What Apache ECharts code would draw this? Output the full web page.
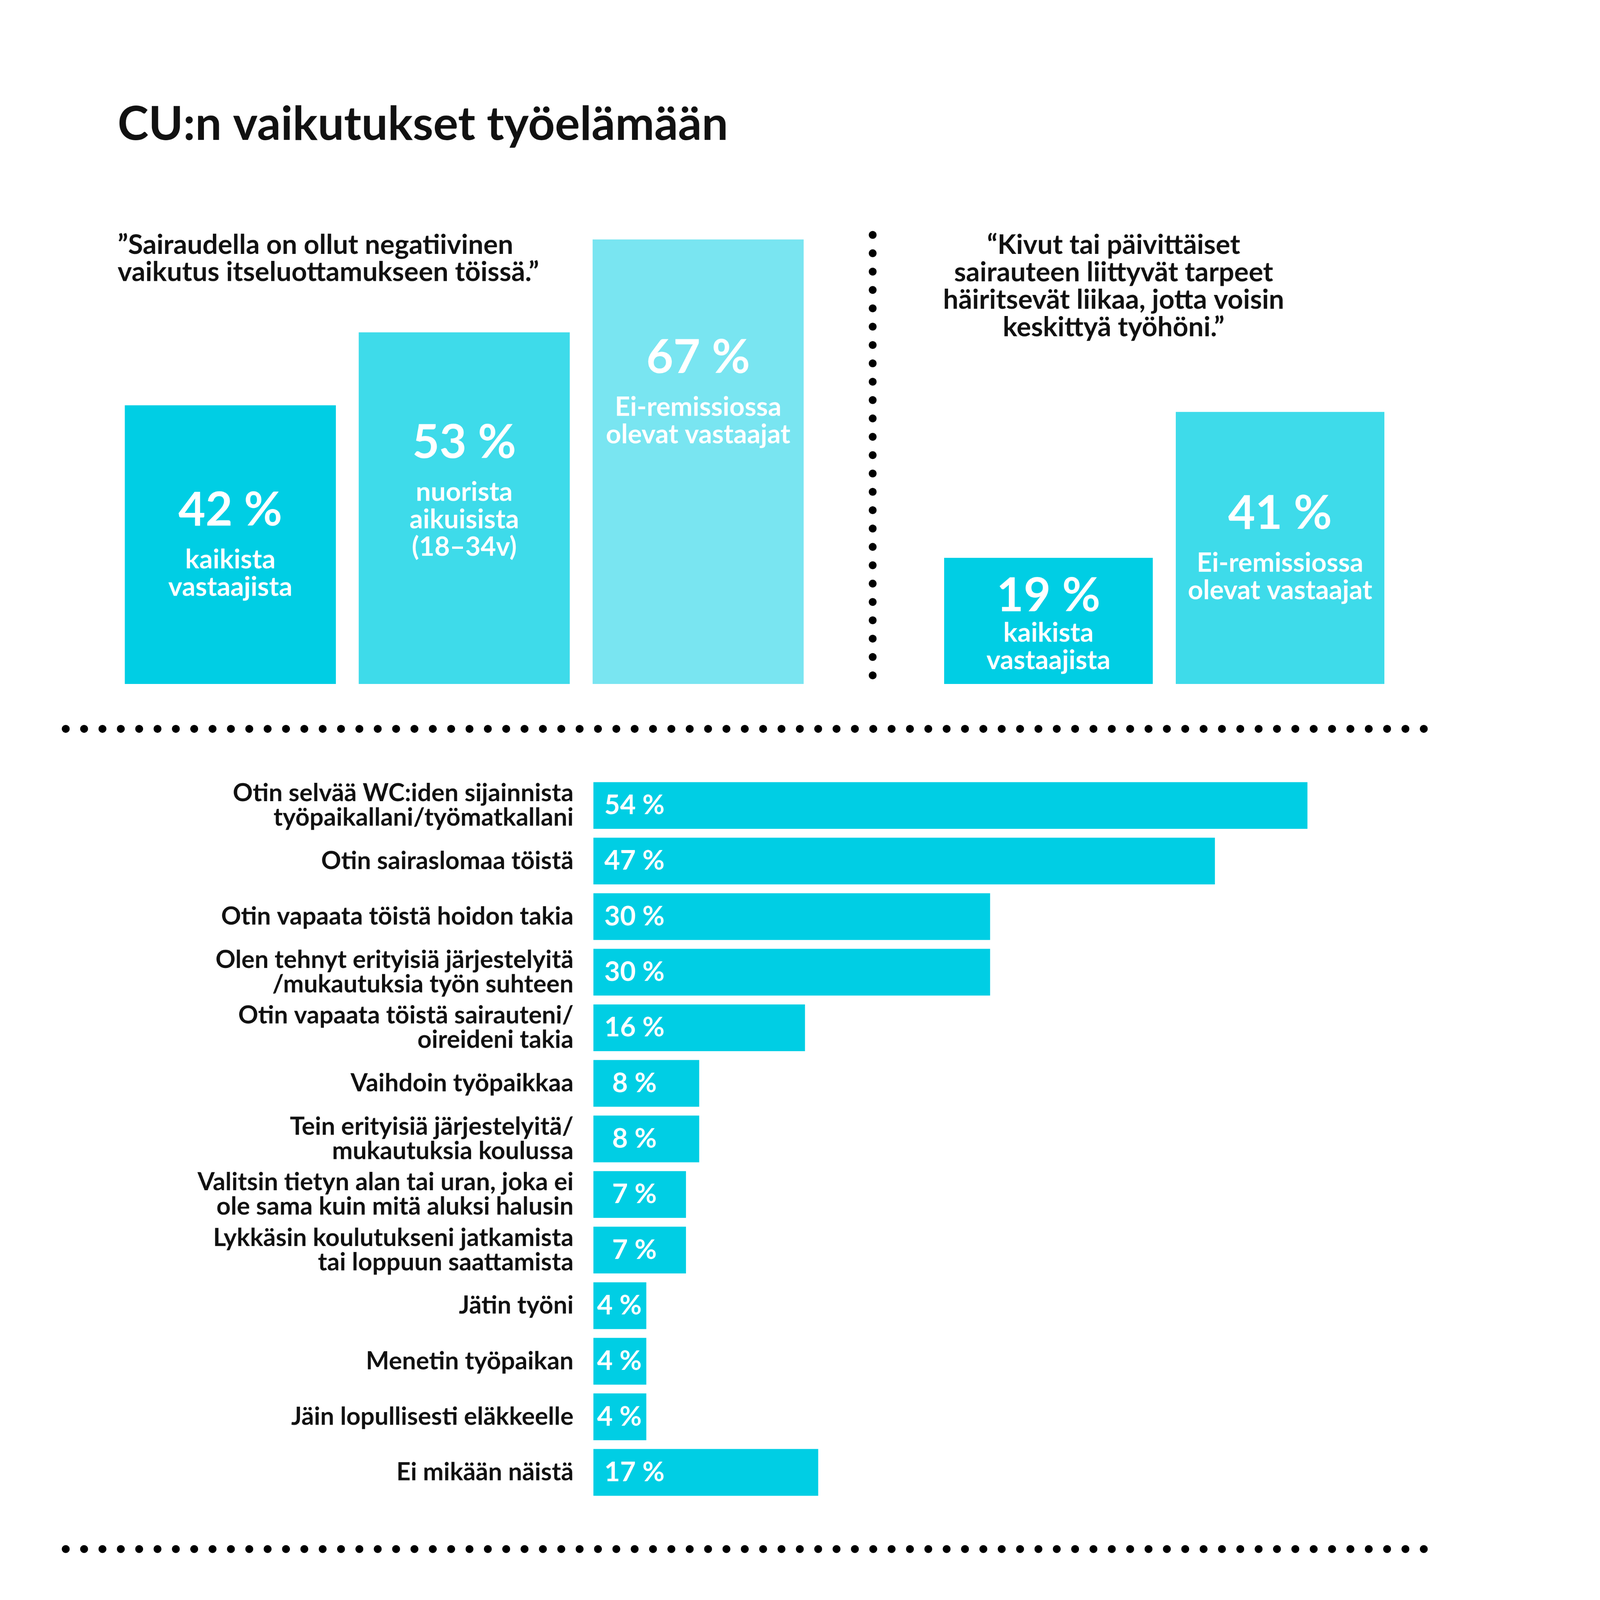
<!DOCTYPE html>
<html>
<head>
<meta charset="utf-8">
<script src="https://cdn.jsdelivr.net/npm/echarts@6/dist/echarts.min.js"></script>
<style>
html, body { margin: 0; padding: 0; background: #ffffff; overflow: hidden; }
#chart { width: 4961px; height: 5306px; transform-origin: 0 0; }
</style>
</head>
<body>
<div id="chart"></div>
<script>
// ---- data ----
const titleText = 'CU:n vaikutukset työelämään';
const quoteLeft = '”Sairaudella on ollut negatiivinen\nvaikutus itseluottamukseen töissä.”';
const quoteRight = '“Kivut tai päivittäiset\nsairauteen liittyvät tarpeet\nhäiritsevät liikaa, jotta voisin\nkeskittyä työhöni.”';

const leftGroups = ['kaikista\nvastaajista', 'nuorista\naikuisista\n(18–34v)', 'Ei-remissiossa\nolevat vastaajat'];
const leftValues = [42, 53, 67];

const rightGroups = ['kaikista\nvastaajista', 'Ei-remissiossa\nolevat vastaajat'];
const rightValues = [19, 41];

const categories = [
  'Otin selvää WC:iden sijainnista\ntyöpaikallani/työmatkallani',
  'Otin sairaslomaa töistä',
  'Otin vapaata töistä hoidon takia',
  'Olen tehnyt erityisiä järjestelyitä\n/mukautuksia työn suhteen',
  'Otin vapaata töistä sairauteni/\noireideni takia',
  'Vaihdoin työpaikkaa',
  'Tein erityisiä järjestelyitä/\nmukautuksia koulussa',
  'Valitsin tietyn alan tai uran, joka ei\nole sama kuin mitä aluksi halusin',
  'Lykkäsin koulutukseni jatkamista\ntai loppuun saattamista',
  'Jätin työni',
  'Menetin työpaikan',
  'Jäin lopullisesti eläkkeelle',
  'Ei mikään näistä'
];
const values = [54, 47, 30, 30, 16, 8, 8, 7, 7, 4, 4, 4, 17];

// ---- styles ----
const FONT = 'Lato, "Open Sans", "Noto Sans", sans-serif';
const C1 = '#00CEE4', C2 = '#3EDBEA', C3 = '#79E5F1';
const leftColors = [C1, C2, C3];
const rightColors = [C1, C2];
const leftDist = [232, 250, 276];
const rightDist = [51, 221];

const rich = {
  big: { fontSize: 155, fontWeight: 'bold', color: '#fff', lineHeight: 235, fontFamily: FONT },
  big2: { fontSize: 155, fontWeight: 'bold', color: '#fff', lineHeight: 153, fontFamily: FONT },
  small: { fontSize: 88, fontWeight: 'bold', color: '#fff', lineHeight: 91, fontFamily: FONT }
};
function topFormatter(bigKey) {
  return function (p) {
    const bk = (typeof bigKey === 'function') ? bigKey(p) : bigKey;
    return '{' + bk + '|' + p.value + ' %}\n' + p.name.split('\n').map(s => '{small|' + s + '}').join('\n');
  };
}

// fit the 4961x5306 canvas into the window (scale is 1 when the window has that size)
const fit = Math.min(1, window.innerWidth / 4961, window.innerHeight / 5306);
if (fit < 1) document.getElementById('chart').style.transform = 'scale(' + fit + ')';

const chart = echarts.init(document.getElementById('chart'), null, { renderer: 'canvas', width: 4961, height: 5306 });

const dot = { stroke: '#000', lineWidth: 26, lineCap: 'round', lineDash: [0.01, 60.85] };

const option = {
  backgroundColor: '#ffffff',
  animation: false,
  textStyle: { fontFamily: FONT },
  graphic: [
    { type: 'text', left: 390, top: 337, style: { text: titleText, font: 'bold 155px ' + FONT, fill: '#111', lineHeight: 155 } },
    { type: 'text', left: 390, top: 768, style: { text: quoteLeft, font: 'bold 90px ' + FONT, fill: '#111', lineHeight: 90 } },
    { type: 'text', x: 3693, y: 767, style: { text: quoteRight, font: 'bold 90px ' + FONT, fill: '#111', lineHeight: 91, align: 'center', verticalAlign: 'top' } },
    { type: 'line', shape: { x1: 218, y1: 2417, x2: 4722, y2: 2417 }, style: dot },
    { type: 'line', shape: { x1: 218, y1: 5137, x2: 4722, y2: 5137 }, style: dot },
    { type: 'line', shape: { x1: 2894, y1: 779, x2: 2894, y2: 2241 }, style: dot }
  ],
  grid: [
    { left: 376, top: 728, width: 2327, height: 1540 },
    { left: 3093, top: 728, width: 1536, height: 1540 },
    { left: 1968, top: 2579, width: 2631, height: 2396 }
  ],
  xAxis: [
    { gridIndex: 0, type: 'category', data: leftGroups, show: false },
    { gridIndex: 1, type: 'category', data: rightGroups, show: false },
    { gridIndex: 2, type: 'value', min: 0, max: 60, show: false }
  ],
  yAxis: [
    { gridIndex: 0, type: 'value', min: 0, max: 70, show: false },
    { gridIndex: 1, type: 'value', min: 0, max: 70, show: false },
    {
      gridIndex: 2, type: 'category', data: categories, inverse: true,
      axisLine: { show: false }, axisTick: { show: false }, splitLine: { show: false },
      axisLabel: { fontSize: 82, lineHeight: 81, color: '#111', fontWeight: 'bold', fontFamily: FONT, margin: 66, align: 'right' }
    }
  ],
  series: [
    {
      type: 'bar', xAxisIndex: 0, yAxisIndex: 0, barWidth: 700,
      data: leftValues.map((v, i) => ({ value: v, itemStyle: { color: leftColors[i] }, label: { distance: leftDist[i] } })),
      label: { show: true, position: 'insideTop', formatter: topFormatter('big'), rich: rich, align: 'center' }
    },
    {
      type: 'bar', xAxisIndex: 1, yAxisIndex: 1, barWidth: 692,
      data: rightValues.map((v, i) => ({ value: v, itemStyle: { color: rightColors[i] }, label: { distance: rightDist[i] } })),
      label: { show: true, position: 'insideTop', formatter: topFormatter(p => p.dataIndex === 0 ? 'big2' : 'big'), rich: rich, align: 'center' }
    },
    {
      type: 'bar', xAxisIndex: 2, yAxisIndex: 2, barWidth: 155,
      itemStyle: { color: C1 },
      data: values.map(v => ({ value: v, label: v < 5 ? { position: [86, '50%'] } : {} })),
      label: {
        show: true, position: [136, '50%'], align: 'center', verticalAlign: 'middle',
        formatter: '{c} %', color: '#fff', fontSize: 90, fontWeight: 'bold', fontFamily: FONT
      }
    }
  ]
};
chart.setOption(option);
</script>
</body>
</html>
